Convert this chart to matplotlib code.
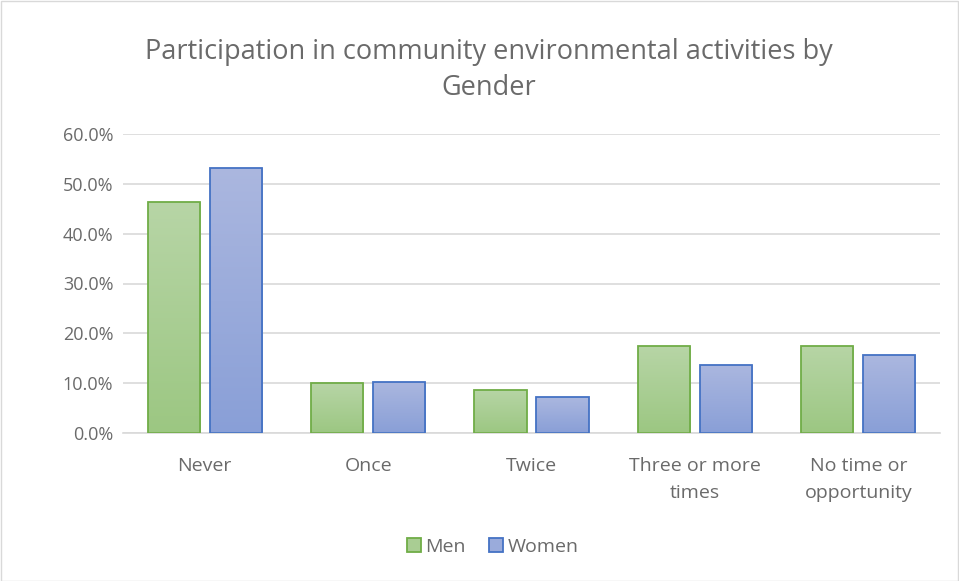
import numpy as np
import matplotlib.pyplot as plt
from matplotlib.colors import LinearSegmentedColormap
from matplotlib.patches import Patch

categories = ["Never", "Once", "Twice", "Three or more\ntimes", "No time or\nopportunity"]
men = [46.3, 10.0, 8.7, 17.4, 17.5]
women = [53.1, 10.3, 7.2, 13.7, 15.6]
yticks = [0, 10, 20, 30, 40, 50, 60]

text_color = "#6a6a6a"
plt.rcParams['font.family'] = ['Open Sans', 'DejaVu Sans']

fig = plt.figure(figsize=(9.59, 5.81), dpi=100)
ax = fig.add_axes([123 / 959, 1 - 433 / 581, 817 / 959, 299 / 581])

x = np.arange(len(categories))
width = 0.32
offset = 0.19


def gradient_bars(xs, vals, top, bottom, edge):
    cmap = LinearSegmentedColormap.from_list("g", [bottom, top])
    grad = np.linspace(0, 1, 256).reshape(-1, 1)
    bars = ax.bar(xs, vals, width, facecolor="none", edgecolor=edge, linewidth=1.3, zorder=3)
    for b in bars:
        x0, y0 = b.get_x(), b.get_y()
        w, h = b.get_width(), b.get_height()
        im = ax.imshow(grad, cmap=cmap, aspect="auto", origin="lower",
                       extent=[x0, x0 + w, y0, y0 + h], zorder=2)
        im.set_clip_path(b)
    return bars


gradient_bars(x - offset, men, "#b7d5a6", "#9cc782", "#70ad47")
gradient_bars(x + offset, women, "#abb7df", "#899fd7", "#4472c4")

ax.set_xlim(-0.5, len(categories) - 0.5)
ax.set_ylim(0, 60)
ax.set_yticks(yticks)
ax.set_yticklabels([f"{v:.1f}%" for v in yticks], fontsize=13, color=text_color)
ax.set_xticks(x)
ax.set_xticklabels(categories, fontsize=14, color=text_color, linespacing=1.65)
ax.tick_params(axis="x", length=0, pad=17)
ax.tick_params(axis="y", length=0, pad=7)
ax.grid(axis="y", color="#d9d9d9", linewidth=1.2, zorder=0)
ax.set_axisbelow(True)
for s in ["top", "right", "left"]:
    ax.spines[s].set_visible(False)
ax.spines["bottom"].set_color("#d9d9d9")
ax.spines["bottom"].set_linewidth(1.2)

fig.text(489 / 959, 1 - 70 / 581,
         "Participation in community environmental activities by\nGender",
         ha="center", va="center", fontsize=19.5, color=text_color, linespacing=1.42)

handles = [Patch(facecolor="#a9cd93", edgecolor="#70ad47", linewidth=1.3, label="Men"),
           Patch(facecolor="#9aabdb", edgecolor="#4472c4", linewidth=1.3, label="Women")]
fig.legend(handles=handles, loc="center", bbox_to_anchor=(493 / 959, 1 - 547 / 581),
           ncol=2, frameon=False, fontsize=14, handlelength=0.7, handleheight=0.7,
           handletextpad=0.25, columnspacing=1.2, labelcolor=text_color)

fig.patches.append(plt.Rectangle((0.5 / 959, 0.5 / 581), 1 - 1.5 / 959, 1 - 1.5 / 581,
                                 transform=fig.transFigure, fill=False,
                                 edgecolor="#d9d9d9", linewidth=1))

fig.savefig("out.png", dpi=100)
